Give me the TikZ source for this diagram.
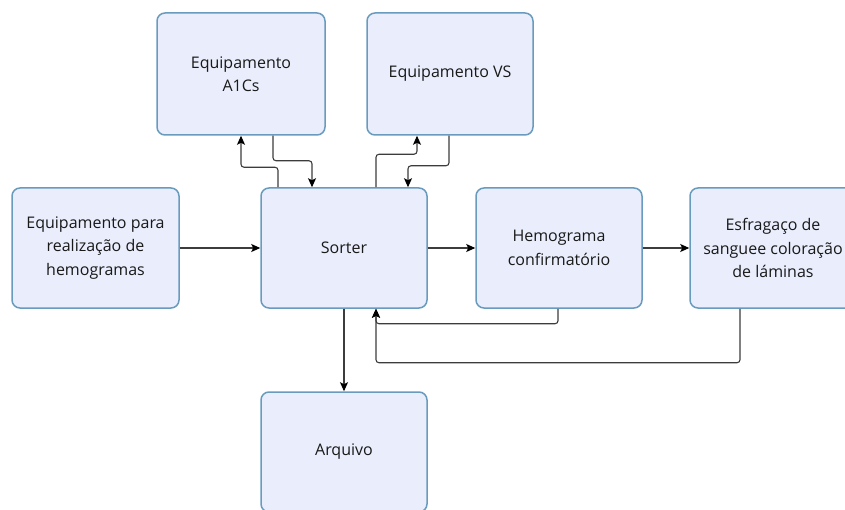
\documentclass[tikz,border=0pt]{standalone}
\usepackage{fontspec}
\setmainfont{Open Sans}
\usetikzlibrary{arrows.meta}
\definecolor{boxfill}{RGB}{234,238,252}
\definecolor{boxline}{RGB}{104,155,190}
\definecolor{connline}{RGB}{60,60,60}
\tikzset{
  box/.style={draw=boxline, fill=boxfill, line width=1.5pt, rounded corners=8pt,
    minimum width=166pt, minimum height=120pt, align=center, inner sep=2pt,
    font=\fontsize{16}{23.5}\selectfont, text=black!90},
  conn/.style={draw=connline, line width=1.1pt, rounded corners=3pt,
    -{Stealth[length=9pt,width=8pt,inset=2pt,color=black]}}
}
\begin{document}
\begin{tikzpicture}[x=1pt,y=-1pt]
\useasboundingbox (0,0) rectangle (845,510);
\begin{scope}
\clip (0,0) rectangle (845,510);
\node[box, minimum width=168pt, minimum height=122pt] (a1cs) at (241,74) {Equipamento\\A1Cs};
\node[box, minimum height=122pt] (vs) at (450,74) {Equipamento VS};
\node[box, minimum width=167pt] (left) at (95.5,248) {Equipamento para\\realização de\\hemogramas};
\node[box] (sorter) at (344,248) {Sorter};
\node[box] (hemo) at (559,248) {Hemograma\\confirmatório};
\node[box] (esf) at (773,248) {Esfragaço de\\sanguee coloração\\de láminas};
\node[box] (arq) at (344,452) {Arquivo};

\draw[conn] ([xshift=-66pt]sorter.north) -- ++(0,20pt) -| (a1cs.south);
\draw[conn] ([xshift=32pt]a1cs.south) -- ++(0,-25pt) -| ([xshift=-32pt]sorter.north);
\draw[conn] ([xshift=32pt]sorter.north) -- ++(0,33pt) -| ([xshift=-33pt]vs.south);
\draw[conn] ([xshift=-1pt]vs.south) -- ++(0,-30pt) -| ([xshift=64pt]sorter.north);
\draw[conn] (left.east) -- (sorter.west);
\draw[conn] (sorter.east) -- (hemo.west);
\draw[conn] (hemo.east) -- (esf.west);
\draw[conn] (sorter.south) -- (arq.north);
\draw[conn] ([xshift=-1pt]hemo.south) -- ++(0,-15pt) -| ([xshift=32pt]sorter.south);
\draw[conn] ([xshift=-33pt]esf.south) -- ++(0,-54pt) -| ([xshift=32pt]sorter.south);
\end{scope}
\end{tikzpicture}
\end{document}
